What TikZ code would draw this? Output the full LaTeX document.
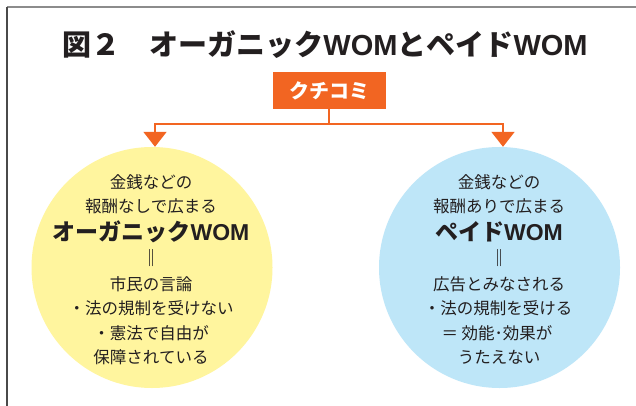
\documentclass[tikz,border=0pt]{standalone}
\usepackage{fontspec}
\setmainfont{Noto Sans CJK JP}
\newfontfamily\latfont{Liberation Sans}
\usetikzlibrary{arrows.meta}
\definecolor{orng}{HTML}{F26522}
\definecolor{ylw}{HTML}{FFF59E}
\definecolor{blu}{HTML}{BEE6F8}
\definecolor{ink}{HTML}{231F20}
\definecolor{framegray}{HTML}{8C8C8C}
\definecolor{framedark}{HTML}{4A4A4A}
\tikzset{
  txt/.style={text=ink, inner sep=0pt, font=\fontsize{16.5}{16.5}\selectfont},
  big/.style={text=ink, inner sep=0pt, font=\bfseries\fontsize{23}{23}\selectfont},
  dbl/.style={text=ink, inner sep=0pt, font=\bfseries\fontsize{17}{17}\selectfont},
  bubble/.style={circle, minimum size=241pt, inner sep=0pt},
  conn/.style={draw=orng, line width=2pt, -{Triangle[width=23pt,length=15pt]}},
  link/.style={draw=orng, line width=2pt}
}
\begin{document}
\begin{tikzpicture}[x=1pt,y=-1pt]
\useasboundingbox (0,0) rectangle (636,406);
\fill[white] (0,0) rectangle (636,406);
% frame
\draw[framegray, line width=1.2pt] (7,7) -- (636,7);
\draw[framedark, line width=1.2pt] (7,7) -- (7,406);
% title
\node[text=ink, inner sep=0pt, font=\bfseries\fontsize{29}{29}\selectfont] (title) at (325,45)
  {図２　オーガニック{\latfont WOM}とペイド{\latfont WOM}};
% source box
\node[fill=orng, minimum width=113pt, minimum height=37pt, inner sep=0pt, text=white,
  font=\bfseries\fontsize{20}{20}\selectfont] (kuchi) at (329,90.5) {クチコミ};
% circles
\node[bubble, fill=ylw] (lc) at (152,267.5) {};
\node[bubble, fill=blu] (rc) at (499.5,267.5) {};
% connectors
\coordinate (j) at (329,124);
\draw[link] (kuchi.south) -- (j);
\draw[conn] (j) -| ([xshift=3pt]lc.north);
\draw[conn] (j) -| ([xshift=3.5pt]rc.north);
% left text
\node[txt] (l1) at (151,182) {金銭などの};
\node[txt] (l2) at (151,206) {報酬なしで広まる};
\node[big] (l3) at (151,232) {オーガニック{\latfont WOM}};
\node[dbl] (l4) at (151,258) {‖};
\node[txt] (l5) at (151,284) {市民の言論};
\node[txt] (l6) at (151,308) {・法の規制を受けない};
\node[txt] (l7) at (151,333) {・憲法で自由が};
\node[txt] (l8) at (151,357) {保障されている};
% right text
\node[txt] (r1) at (499,182) {金銭などの};
\node[txt] (r2) at (499,206) {報酬ありで広まる};
\node[big] (r3) at (499,232) {ペイド{\latfont WOM}};
\node[dbl] (r4) at (499,258) {‖};
\node[txt] (r5) at (499,284) {広告とみなされる};
\node[txt] (r6) at (498,308) {・法の規制を受ける};
\node[txt] (r7) at (497,333) {＝ 効能･効果が};
\node[txt] (r8) at (499,357) {うたえない};
\end{tikzpicture}
\end{document}
